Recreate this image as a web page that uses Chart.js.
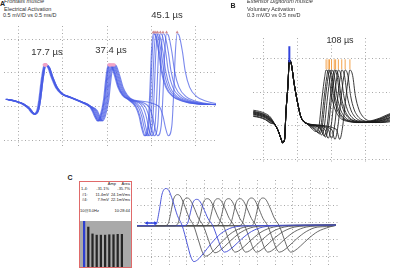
<!DOCTYPE html>
<html lang="en">
<head>
<meta charset="UTF-8" />
<title>Jitter recordings</title>
<script src="https://cdn.jsdelivr.net/npm/chart.js"></script>
<style>
  body { margin:0; width:400px; height:273px; position:relative; overflow:hidden; background:#fff;
         font-family:"Liberation Sans", Arial, sans-serif; color:#222; }
  canvas { position:absolute; }
  .t { position:absolute; white-space:nowrap; line-height:1; }
  .c { transform:translate(-50%,-50%); }
  .l { transform:translateY(-50%); }
  .r { transform:translate(-100%,-50%); }
  .hd { font-size:5.5px; color:#333; }
  .pl { font-size:7px; font-weight:bold; }
  .us { font-size:9.5px; color:#333; }
  .bx { font-size:4px; color:#222; }
  #box { position:absolute; left:79px; top:181px; width:53px; height:87px; border:1px solid #e06a6a;
         box-sizing:border-box; background:#fff; }
  #bars { background:#a9a9a9; }
</style>
</head>
<body>
  <div id="box"></div>

  <canvas id="chartA" width="220" height="130" style="left:0;top:22px"></canvas>
  <canvas id="chartB" width="157" height="145" style="left:243px;top:28px"></canvas>
  <canvas id="chartC" width="210" height="94" style="left:133px;top:176px"></canvas>
  <canvas id="bars" width="51" height="46" style="left:80px;top:221px"></canvas>

  <div class="t l pl" style="left:0;top:3px">A</div>
  <div class="t l hd" style="left:4px;top:2px;font-style:italic">Frontalis muscle</div>
  <div class="t l hd" style="left:4px;top:9.5px">Electrical Activation</div>
  <div class="t l hd" style="left:3px;top:16px">0.5 mV/D vs 0.5 ms/D</div>
  <div class="t c us" style="left:47px;top:52px">17.7 µs</div>
  <div class="t c us" style="left:111px;top:50px">37.4 µs</div>
  <div class="t c us" style="left:167px;top:15px">45.1 µs</div>

  <div class="t c pl" style="left:233px;top:5px">B</div>
  <div class="t l hd" style="left:247px;top:2px;font-style:italic">Extensor Digitorum muscle</div>
  <div class="t l hd" style="left:247px;top:9.5px">Voluntary Activation</div>
  <div class="t l hd" style="left:247px;top:16px">0.3 mV/D vs 0.5 ms/D</div>
  <div class="t c us" style="left:340px;top:40px;font-size:9px">108 µs</div>

  <div class="t c pl" style="left:70px;top:177px">C</div>
  <div class="t r bx" style="left:116px;top:183.5px">Amp</div>
  <div class="t r bx" style="left:130px;top:183.5px">Area</div>
  <div class="t l bx" style="left:81px;top:189px">1-4:</div>
  <div class="t r bx" style="left:109px;top:189px">-31.1%</div>
  <div class="t r bx" style="left:130px;top:189px">-35.7%</div>
  <div class="t l bx" style="left:82px;top:194.5px">#1:</div>
  <div class="t r bx" style="left:109px;top:194.5px">11.4mV</div>
  <div class="t r bx" style="left:130px;top:194.5px">24.1mVms</div>
  <div class="t l bx" style="left:82px;top:200px">#4:</div>
  <div class="t r bx" style="left:109px;top:200px">7.9mV</div>
  <div class="t r bx" style="left:130px;top:200px">22.1mVms</div>
  <div class="t l bx" style="left:80px;top:211px">10@3.0Hz</div>
  <div class="t r bx" style="left:130px;top:211px">10:28:44</div>

  <script>
    // ---- panel A: frontalis, electrical activation (ms / mV) ----
    const aG1T = [-0.14,-0.03,0.05,0.12,0.15,0.18,0.22,0.24,0.27,0.30,0.34,0.38,0.43,0.49,0.58,0.71,0.80];
    const aG1V = [0.11,0.08,0.04,-0.03,-0.08,-0.11,-0.04,0.11,0.43,0.62,0.58,0.43,0.28,0.19,0.14,0.07,0.01];
    const aG2T = [0.84,0.87,0.90,0.93,0.97,0.99,1.01,1.03,1.05,1.09,1.13,1.18,1.25];
    const aG2V = [-0.06,-0.15,-0.21,-0.14,0.11,0.36,0.56,0.62,0.61,0.47,0.29,0.17,0.10];
    const aG3T = [1.32,1.36,1.39,1.42,1.46,1.48,1.50,1.52,1.54,1.58,1.61,1.66,1.74,1.85,2.01,2.25];
    const aG3V = [0,-0.14,-0.32,-0.43,-0.28,0.18,0.81,1.08,1.06,0.81,0.53,0.29,0.15,0.08,0.04,0.03];
    const aShift1 = [0,0,0.01,0,0.01,-0.01,0.01,0];
    const aShift2 = [-0.01,0,0,0.01,0.02,0.03,0.04,0.05];
    const aShift3 = [0,0.01,0.03,0.05,0.08,0.11,0.15,0.27];
    const aGridX = [0,0.5,1,1.5,2];
    const aGridY = [-0.5,0,0.5,1];

    // ---- panel B: extensor digitorum, voluntary activation ----
    const bG1T = [-0.15,-0.06,0.03,0.10,0.17,0.22,0.26,0.28,0.31,0.33,0.36,0.38,0.41,0.45,0.51,0.55,0.64];
    const bG1V = [0.11,0.10,0.08,0.05,0.01,-0.05,-0.12,-0.15,-0.12,0.12,0.37,0.59,0.55,0.38,0.18,0.08,0.02];
    const bLead = [0.03,0.02,0.01,0.005,0,-0.005,-0.01,-0.02,-0.025,0.015];
    const bG2T = [0.72,0.77,0.81,0.86,0.90,0.92,0.96,1.00,1.05,1.09,1.15,1.24,1.37,1.54,1.71,1.86,2.12];
    const bG2V = [-0.03,-0.05,-0.02,0.25,0.44,0.50,0.45,0.27,0.15,0.10,0.06,0.04,0.03,0.04,0.07,0.11,0.14];
    const bShift = [0,0.03,0.05,0.08,0.12,0.14,0.18,0.23,0.28,0.35];
    const bMinV = [-0.05,-0.06,-0.07,-0.08,-0.09,-0.10,-0.11,-0.11,-0.12,-0.12];
    const bGridX = [0,0.5,1,1.5];
    const bGridY = [-0.3,0,0.3,0.6];

    // ---- panel C: repetitive stimulation, 10 responses ----
    const cShapeT = [-0.76,-0.54,-0.38,-0.22,0,0.16,0.38,0.65,0.92,1.20,1.41,1.58,1.79,2.12,2.55,3.10,3.75,4.73];
    const cShapeY = [0,0.05,0.4,0.85,1,0.95,0.68,0.27,0,-0.5,-0.87,-1,-0.95,-0.77,-0.5,-0.22,-0.05,0];
    const cPeakT = [0.82,1.47,2.01,2.55,3.15,3.75,4.35,5.00,5.65,6.30];
    const cPeakMv = [5.5,4.6,4.1,3.9,4.0,4.0,4.0,4.0,4.1,4.1];
    const cTroughMv = [5.3,4.5,4.0,3.9,3.9,3.9,3.9,3.9,3.9,3.9];
    const cStartT = -0.82, cTailT = 10.43, cTailV = 0.1;
    const cArrowT = [-0.27, 0.22];
    const cArrowV = [0.4, 0.4];
    const cGridX = [0,1,2,3,4,5,6,7,8,9,10];
    const cGridY = [5.5,3.0,0.5,-2.0,-4.5];
    const cBarLabels = ['1','2','3','4','5','6','7','8','9','10'];
    const cBarAmp = [11.4,9.9,8.2,7.9,7.9,7.9,8.0,8.0,8.1,8.1];

    function seg(ts, vs, dt) {
      return ts.map((t, i) => ({ x: t + dt, y: vs[i] }));
    }

    function gridAxis(min, max, ticks) {
      return {
        type: 'linear', min: min, max: max,
        afterBuildTicks: ax => { ax.ticks = ticks.map(v => ({ value: v })); },
        ticks: { display: false },
        grid: { color: '#a8a8a8', lineWidth: 1, drawTicks: false },
        border: { display: false, dash: [1, 2.5] }
      };
    }

    function waveChart(id, datasets, xr, yr, gx, gy) {
      return new Chart(document.getElementById(id), {
        type: 'line',
        data: { datasets: datasets },
        options: {
          responsive: false, animation: false, devicePixelRatio: 1,
          layout: { padding: 0 },
          plugins: { legend: { display: false }, tooltip: { enabled: false } },
          elements: { point: { radius: 0 } },
          scales: { x: gridAxis(xr[0], xr[1], gx), y: gridAxis(yr[0], yr[1], gy) }
        }
      });
    }

    function trace(data, color, width) {
      return { data: data, borderColor: color, borderWidth: width, pointRadius: 0,
               cubicInterpolationMode: 'monotone', fill: false, order: 5 };
    }

    // panel A
    const aSets = [];
    const aPk12 = [], aPk3 = [];
    aShift1.forEach((s1, i) => {
      const pts = [...seg(aG1T, aG1V, s1), ...seg(aG2T, aG2V, aShift2[i]), ...seg(aG3T, aG3V, aShift3[i])];
      aSets.push(trace(pts, 'rgba(72,92,228,0.72)', 1.1));
      aPk12.push({ x: aG1T[9] + s1, y: aG1V[9] }, { x: aG2T[7] + aShift2[i], y: aG2V[7] });
      aPk3.push({ x: aG3T[7] + aShift3[i], y: aG3V[7] + 0.02 });
    });
    aSets.push({ data: aPk12, showLine: false, pointRadius: 1.6, pointBackgroundColor: '#f2a4c6',
                 pointBorderWidth: 0, order: 1 });
    aSets.push({ data: aPk3, showLine: false, pointRadius: 1.8, pointStyle: 'triangle',
                 pointBackgroundColor: '#cf8a90', pointBorderWidth: 0, order: 1 });
    waveChart('chartA', aSets, [-0.163, 2.228], [-0.611, 1.194], aGridX, aGridY);

    // panel B
    const bSets = [];
    const bPk = [];
    bShift.forEach((s, i) => {
      const lead = bG1T.map((t, j) => ({ x: t, y: bG1V[j] + (j < 4 ? bLead[i] : 0) }));
      const late = bG2T.map((t, j) => ({ x: t + s, y: j === 1 ? bMinV[i] : bG2V[j] }));
      bSets.push(trace([...lead, ...late], 'rgba(25,25,25,0.85)', 1));
      bPk.push({ x: bG2T[5] + s, y: bG2V[5] + 0.05 });
    });
    bSets.push({ data: bPk, showLine: false, pointStyle: 'line', pointRotation: 90, pointRadius: 5,
                 pointBorderColor: '#f3a24a', pointBorderWidth: 1, order: 1 });
    bSets.push({ data: [{ x: bG1T[11], y: bG1V[11] + 0.05 }], showLine: false, pointStyle: 'line',
                 pointRotation: 90, pointRadius: 8, pointBorderColor: '#3344dd', pointBorderWidth: 2, order: 1 });
    waveChart('chartB', bSets, [-0.154, 1.859], [-0.331, 0.785], bGridX, bGridY);

    // panel C
    const cSets = [];
    cPeakT.forEach((pt, i) => {
      const pts = [{ x: cStartT, y: 0 }];
      cShapeT.forEach((t, j) => {
        const x = pt + t;
        if (x < cTailT) {
          const v = cShapeY[j];
          pts.push({ x: x, y: v * (v > 0 ? cPeakMv[i] : cTroughMv[i]) });
        }
      });
      pts.push({ x: cTailT, y: cTailV });
      const blue = (i === 0 || i === 3);
      cSets.push(trace(pts, blue ? 'rgba(70,80,215,0.95)' : 'rgba(80,80,80,0.85)', 1));
    });
    cSets.push({ data: cArrowT.map((t, i) => ({ x: t, y: cArrowV[i] })), borderColor: '#2a3fe0',
                 borderWidth: 1.5, pointStyle: 'triangle', pointRotation: [-90, 90], pointRadius: 2.2,
                 pointBackgroundColor: '#2a3fe0', pointBorderWidth: 0, order: 1 });
    waveChart('chartC', cSets, [-0.815, 10.6], [-5.95, 6.76], cGridX, cGridY);

    // bar summary inside the red box
    new Chart(document.getElementById('bars'), {
      type: 'bar',
      data: {
        labels: cBarLabels,
        datasets: [{ data: cBarAmp, barThickness: 1.6,
                     backgroundColor: cBarAmp.map((v, i) => i === 0 ? '#2d3fd0' : '#262626') }]
      },
      options: {
        responsive: false, animation: false, devicePixelRatio: 1,
        layout: { padding: { left: 2, right: 7, top: 0, bottom: 0 } },
        plugins: { legend: { display: false }, tooltip: { enabled: false } },
        scales: {
          x: { display: false },
          y: { display: false, min: 0, max: 11.4 }
        }
      }
    });
  </script>
</body>
</html>
